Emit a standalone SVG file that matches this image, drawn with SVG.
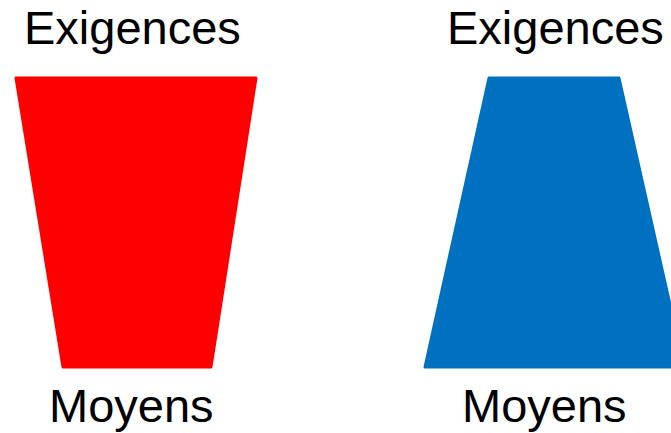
<svg xmlns="http://www.w3.org/2000/svg" width="671" height="433" viewBox="0 0 671 433">
<style>
.t{font-family:"Liberation Sans",Arial,sans-serif;font-size:47px;fill:#000}
.s{stroke-linejoin:round;stroke-width:3}
</style>
<rect width="671" height="433" fill="#fff"/>
<g id="left">
<polygon class="s" points="16,78 256,78 211,367 63,367" fill="#ff0000" stroke="#ff0000"/>
<text class="t" x="24" y="44">Exigences</text>
<text class="t" x="49" y="422">Moyens</text>
</g>
<g id="right">
<polygon class="s" points="489,78 619,78 684,367 425,367" fill="#0070c0" stroke="#0070c0"/>
<text class="t" x="447" y="44">Exigences</text>
<text class="t" x="462" y="422">Moyens</text>
</g>
</svg>
